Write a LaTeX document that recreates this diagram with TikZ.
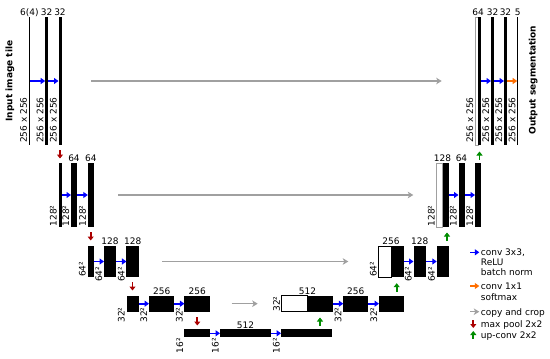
\documentclass[tikz,border=0pt]{standalone}
\usepackage{fontspec}
\setmainfont{DejaVu Sans}
\usetikzlibrary{arrows.meta}
\definecolor{cblue}{RGB}{0,0,255}
\definecolor{corange}{RGB}{255,110,0}
\definecolor{cgray}{RGB}{160,160,160}
\definecolor{cred}{RGB}{170,0,0}
\definecolor{cgreen}{RGB}{0,140,0}
\begin{document}
\begin{tikzpicture}[x=1pt,y=-1pt,
  font=\fontsize{9}{10}\selectfont,
  bar/.style 2 args={fill=black,draw=none,inner sep=0pt,outer sep=0pt,minimum width=#1pt,minimum height=#2pt},
  wbox/.style 2 args={fill=white,draw=black,line width=0.5pt,inner sep=0pt,outer sep=0pt,minimum width=#1pt,minimum height=#2pt},
  conv/.style={draw=cblue,line width=1.6pt,-{Triangle[length=4.5pt,width=6pt]}},
  soft/.style={draw=corange,line width=1.6pt,-{Triangle[length=4.5pt,width=6pt]}},
  copyc/.style={draw=cgray,line width=1.4pt,-{Stealth[length=5.5pt,width=6.5pt,inset=1.5pt]}},
  pool/.style={draw=cred,line width=1.8pt,-{Triangle[length=4pt,width=6pt]}},
  upc/.style={draw=cgreen,line width=1.8pt,-{Triangle[length=4pt,width=6pt]}},
  tl/.style={anchor=base,inner sep=0pt},
  rl/.style={rotate=90,anchor=south west,inner sep=0pt},
  lg/.style={anchor=base west,inner sep=0pt}
]
\useasboundingbox (0,0) rectangle (550,359);

% ---------- level 0 ----------
\node[bar={1}{128}] (L0a) at (29.3,81) {};
\node[bar={3}{128}] (L0b) at (46.7,81) {};
\node[bar={3}{128}] (L0c) at (60,81) {};
\node[wbox={3}{128},draw=cgray] (R0w) at (476.5,81) {};
\node[bar={3}{128}] (R0k) at (479.5,81) {};
\node[bar={3}{128}] (R0b) at (492.5,81) {};
\node[bar={3}{128}] (R0c) at (505.5,81) {};
\node[bar={1}{128}] (R0o) at (517.7,81) {};

% ---------- level 1 ----------
\node[bar={3}{64}] (L1a) at (60,195) {};
\node[bar={6}{64}] (L1b) at (74,195) {};
\node[bar={6}{64}] (L1c) at (90.8,195) {};
\node[wbox={6}{64},draw=cgray] (R1w) at (439.5,195) {};
\node[bar={6}{64}] (R1k) at (445.5,195) {};
\node[bar={6}{64}] (R1b) at (461.5,195) {};
\node[bar={6}{64}] (R1c) at (478,195) {};

% ---------- level 2 ----------
\node[bar={6}{31}] (L2a) at (90.5,261.5) {};
\node[bar={12}{31}] (L2b) at (110,261.5) {};
\node[bar={12.5}{31}] (L2c) at (132.7,261.5) {};
\node[wbox={12.5}{31}] (R2w) at (384.75,261.5) {};
\node[bar={12.5}{31}] (R2k) at (397.25,261.5) {};
\node[bar={12.5}{31}] (R2b) at (419.75,261.5) {};
\node[bar={12.5}{31}] (R2c) at (443,261.5) {};

% ---------- level 3 ----------
\node[bar={12.5}{16}] (L3a) at (132.8,303.7) {};
\node[bar={25.3}{16}] (L3b) at (161.7,303.7) {};
\node[bar={25.5}{16}] (L3c) at (197.2,303.7) {};
\node[wbox={25.8}{16}] (R3w) at (294.6,303.7) {};
\node[bar={25.2}{16}] (R3k) at (320.1,303.7) {};
\node[bar={25}{16}] (R3b) at (355.8,303.7) {};
\node[bar={25}{16}] (R3c) at (391.5,303.7) {};

% ---------- level 4 ----------
\node[bar={25.5}{8}] (L4a) at (197.2,333.3) {};
\node[bar={51}{8}] (L4b) at (245.5,333.3) {};
\node[bar={51.3}{8}] (L4c) at (306.7,333.3) {};

% ---------- conv arrows ----------
\draw[conv] (L0a.east) -- (L0b.west);
\draw[conv] (L0b.east) -- (L0c.west);
\draw[conv] (L1a.east) -- (L1b.west);
\draw[conv] (L1b.east) -- (L1c.west);
\draw[conv] (L2a.east) -- (L2b.west);
\draw[conv] (L2b.east) -- (L2c.west);
\draw[conv] (L3a.east) -- (L3b.west);
\draw[conv] (L3b.east) -- (L3c.west);
\draw[conv] (L4a.east) -- (L4b.west);
\draw[conv] (L4b.east) -- (L4c.west);
\draw[conv] (R3k.east) -- (R3b.west);
\draw[conv] (R3b.east) -- (R3c.west);
\draw[conv] (R2k.east) -- (R2b.west);
\draw[conv] (R2b.east) -- (R2c.west);
\draw[conv] (R1k.east) -- (R1b.west);
\draw[conv] (R1b.east) -- (R1c.west);
\draw[conv] (R0k.east) -- (R0b.west);
\draw[conv] (R0b.east) -- (R0c.west);
\draw[soft] (R0c.east) -- (R0o.west);

% ---------- copy and crop ----------
\coordinate (c0s) at (91,81);      \coordinate (c0e) at (441.7,81);
\coordinate (c1s) at (118,195);    \coordinate (c1e) at (413.3,195);
\coordinate (c2s) at (162,261.5);  \coordinate (c2e) at (348.3,261.5);
\coordinate (c3s) at (231.7,303.7);\coordinate (c3e) at (257.7,303.7);
\draw[copyc] (c0s) -- (c0e);
\draw[copyc] (c1s) -- (c1e);
\draw[copyc] (c2s) -- (c2e);
\draw[copyc] (c3s) -- (c3e);

% ---------- max pool ----------
\coordinate (p0s) at (60,150);    \coordinate (p0e) at (60,158.5);
\coordinate (p1s) at (90.7,232);  \coordinate (p1e) at (90.7,240.5);
\coordinate (p2s) at (132.5,282); \coordinate (p2e) at (132.5,290.5);
\coordinate (p3s) at (197.3,317); \coordinate (p3e) at (197.3,325.5);
\draw[pool] (p0s) -- (p0e);
\draw[pool] (p1s) -- (p1e);
\draw[pool] (p2s) -- (p2e);
\draw[pool] (p3s) -- (p3e);

% ---------- up-conv ----------
\coordinate (u3s) at (320,326);   \coordinate (u3e) at (320,317.5);
\coordinate (u2s) at (396.7,291.7); \coordinate (u2e) at (396.7,283.2);
\coordinate (u1s) at (447,241);   \coordinate (u1e) at (447,232.5);
\coordinate (u0s) at (479.5,160); \coordinate (u0e) at (479.5,151.5);
\draw[upc] (u3s) -- (u3e);
\draw[upc] (u2s) -- (u2e);
\draw[upc] (u1s) -- (u1e);
\draw[upc] (u0s) -- (u0e);

% ---------- channel labels ----------
\node[tl] (t0a) at ([yshift=1.8pt]L0a.north) {6(4)};
\node[tl] (t0b) at ([yshift=1.8pt]L0b.north) {32};
\node[tl] (t0c) at ([yshift=1.8pt]L0c.north) {32};
\node[tl] (t0r) at ([yshift=1.8pt]R0w.north east) {64};
\node[tl] (t0s) at ([yshift=1.8pt]R0b.north) {32};
\node[tl] (t0t) at ([yshift=1.8pt]R0c.north) {32};
\node[tl] (t0u) at ([yshift=1.8pt]R0o.north) {5};
\node[tl] (t1b) at ([yshift=1.2pt]L1b.north) {64};
\node[tl] (t1c) at ([yshift=1.2pt]L1c.north) {64};
\node[tl] (t1r) at ([yshift=1.2pt]R1w.north east) {128};
\node[tl] (t1s) at ([yshift=1.2pt]R1b.north) {64};
\node[tl] (t2b) at ([yshift=1.5pt]L2b.north) {128};
\node[tl] (t2c) at ([yshift=1.5pt]L2c.north) {128};
\node[tl] (t2r) at ([yshift=1.5pt]R2w.north east) {256};
\node[tl] (t2s) at ([yshift=1.5pt]R2b.north) {128};
\node[tl] (t3b) at ([yshift=1pt]L3b.north) {256};
\node[tl] (t3c) at ([yshift=1pt]L3c.north) {256};
\node[tl] (t3r) at ([yshift=1pt]R3w.north east) {512};
\node[tl] (t3s) at ([yshift=1pt]R3b.north) {256};
\node[tl] (t4b) at ([yshift=1pt]L4b.north) {512};

% ---------- size labels ----------
\node[rl] (s0a) at ([xshift=-1.5pt,yshift=2pt]L0a.south west) {256 x 256};
\node[rl] (s0b) at ([xshift=-1.5pt,yshift=2pt]L0b.south west) {256 x 256};
\node[rl] (s0c) at ([xshift=-1.5pt,yshift=2pt]L0c.south west) {256 x 256};
\node[rl] (s0r) at ([xshift=-1.5pt,yshift=2pt]R0w.south west) {256 x 256};
\node[rl] (s0s) at ([xshift=-1.5pt,yshift=2pt]R0b.south west) {256 x 256};
\node[rl] (s0t) at ([xshift=-1.5pt,yshift=2pt]R0c.south west) {256 x 256};
\node[rl] (s0u) at ([xshift=-1.5pt,yshift=2pt]R0o.south west) {256 x 256};
\node[rl] (s1a) at ([xshift=-1.5pt,yshift=0.5pt]L1a.south west) {128²};
\node[rl] (s1b) at ([xshift=-1.5pt,yshift=0.5pt]L1b.south west) {128²};
\node[rl] (s1c) at ([xshift=-1.5pt,yshift=0.5pt]L1c.south west) {128²};
\node[rl] (s1r) at ([xshift=-1.5pt,yshift=0.5pt]R1w.south west) {128²};
\node[rl] (s1s) at ([xshift=-1.5pt,yshift=0.5pt]R1b.south west) {128²};
\node[rl] (s1t) at ([xshift=-1.5pt,yshift=0.5pt]R1c.south west) {128²};
\node[rl] (s2a) at ([xshift=-1.5pt]L2a.south west) {64²};
\node[rl] (s2b) at ([xshift=-1.5pt,yshift=-5pt]L2b.south west) {64²};
\node[rl] (s2c) at ([xshift=-1.5pt,yshift=-5pt]L2c.south west) {64²};
\node[rl] (s2r) at ([xshift=-1.5pt]R2w.south west) {64²};
\node[rl] (s2s) at ([xshift=-1.5pt,yshift=-5pt]R2b.south west) {64²};
\node[rl] (s2t) at ([xshift=-1.5pt,yshift=-5pt]R2c.south west) {64²};
\node[rl] (s3a) at ([xshift=-1.5pt,yshift=-11pt]L3a.south west) {32²};
\node[rl] (s3b) at ([xshift=-1.5pt,yshift=-11pt]L3b.south west) {32²};
\node[rl] (s3c) at ([xshift=-1.5pt,yshift=-11pt]L3c.south west) {32²};
\node[rl] (s3r) at ([xshift=-1.5pt]R3w.south west) {32²};
\node[rl] (s3s) at ([xshift=-1.5pt,yshift=-11pt]R3b.south west) {32²};
\node[rl] (s3t) at ([xshift=-1.5pt,yshift=-11pt]R3c.south west) {32²};
\node[rl] (s4a) at ([xshift=-1pt,yshift=-16pt]L4a.south west) {16²};
\node[rl] (s4b) at ([xshift=-1pt,yshift=-16pt]L4b.south west) {16²};
\node[rl] (s4c) at ([xshift=-1pt,yshift=-16pt]L4c.south west) {16²};

% ---------- side titles ----------
\node[rotate=90,font=\fontsize{9}{10}\selectfont\bfseries,inner sep=0pt] (inp) at (10,81) {Input image tile};
\node[rotate=90,font=\fontsize{9}{10}\selectfont\bfseries,inner sep=0pt] (outp) at (533.3,80) {Output segmentation};

% ---------- legend ----------
\coordinate (g1s) at (470,252.3);   \coordinate (g1e) at (479.3,252.3);
\coordinate (g2s) at (470,286);     \coordinate (g2e) at (479.3,286);
\coordinate (g3s) at (470,311.7);   \coordinate (g3e) at (479.3,311.7);
\coordinate (g4s) at (473.3,320);   \coordinate (g4e) at (473.3,328);
\coordinate (g5s) at (473.3,339);   \coordinate (g5e) at (473.3,331);
\draw[conv] (g1s) -- (g1e);
\draw[soft] (g2s) -- (g2e);
\draw[copyc] (g3s) -- (g3e);
\draw[pool] (g4s) -- (g4e);
\draw[upc] (g5s) -- (g5e);
\node[lg] (lt1a) at (480.7,255.6) {conv 3x3,};
\node[lg] (lt1b) at (480.7,265.6) {ReLU};
\node[lg] (lt1c) at (480.7,275.6) {batch norm};
\node[lg] (lt2a) at (480.7,289.5) {conv 1x1};
\node[lg] (lt2b) at (480.7,300.5) {softmax};
\node[lg] (lt3) at (480.7,315) {copy and crop};
\node[lg] (lt4) at (480.7,327.5) {max pool 2x2};
\node[lg] (lt5) at (480.7,338.5) {up-conv 2x2};
\end{tikzpicture}
\end{document}
